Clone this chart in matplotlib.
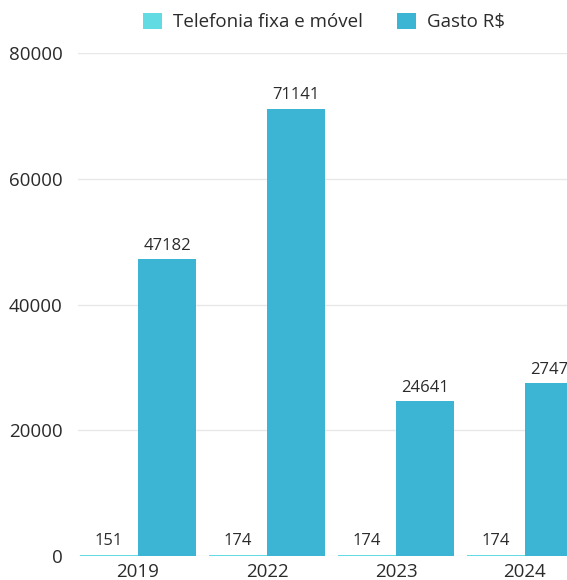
import matplotlib
matplotlib.use("Agg")
import matplotlib.pyplot as plt
import numpy as np

years = ["2019", "2022", "2023", "2024"]
telefonia = [151, 174, 174, 174]
gasto = [47182, 71141, 24641, 27471]
series_names = ["Telefonia fixa e móvel", "Gasto R$"]

TEAL = "#63dbe3"
BLUE = "#3cb5d4"
TXT = "#2b2b2b"

plt.rcParams["font.family"] = ["Open Sans", "DejaVu Sans"]

fig = plt.figure(figsize=(5.67, 5.8), dpi=100, facecolor="white")
# axes run past the right edge on purpose: the reference is cropped there
ax = fig.add_axes([78 / 567, 24 / 580, 516 / 567, 503 / 580])

x = np.arange(len(years))
w = 0.45
b1 = ax.bar(x - w / 2, telefonia, w, color=TEAL, label=series_names[0])
b2 = ax.bar(x + w / 2, gasto, w, color=BLUE, label=series_names[1])

for bars, vals in ((b1, telefonia), (b2, gasto)):
    for r, v in zip(bars, vals):
        ax.annotate(f"{v}", (r.get_x() + r.get_width() / 2, v),
                    xytext=(0, 4), textcoords="offset points",
                    ha="center", va="bottom", fontsize=12, color=TXT)

ax.set_xlim(-0.465, 3.535)
ax.set_ylim(0, 80000)
ax.set_yticks(np.arange(0, 80001, 20000))
ax.set_xticks(x)
ax.set_xticklabels(years)
ax.grid(axis="y", color="#e8e8e8", linewidth=1)
ax.set_axisbelow(True)
for s in ax.spines.values():
    s.set_visible(False)
ax.tick_params(axis="both", length=0, labelsize=13.5, colors=TXT)
ax.tick_params(axis="y", pad=11)
ax.tick_params(axis="x", pad=5)

fig.legend(loc="center", bbox_to_anchor=(324 / 567, 1 - 22 / 580), ncol=2,
           frameon=False, fontsize=13.5, handlelength=1.0, handleheight=1.0,
           handletextpad=0.6, columnspacing=1.8, labelcolor=TXT)

fig.savefig("out.png", dpi=100, facecolor="white")
